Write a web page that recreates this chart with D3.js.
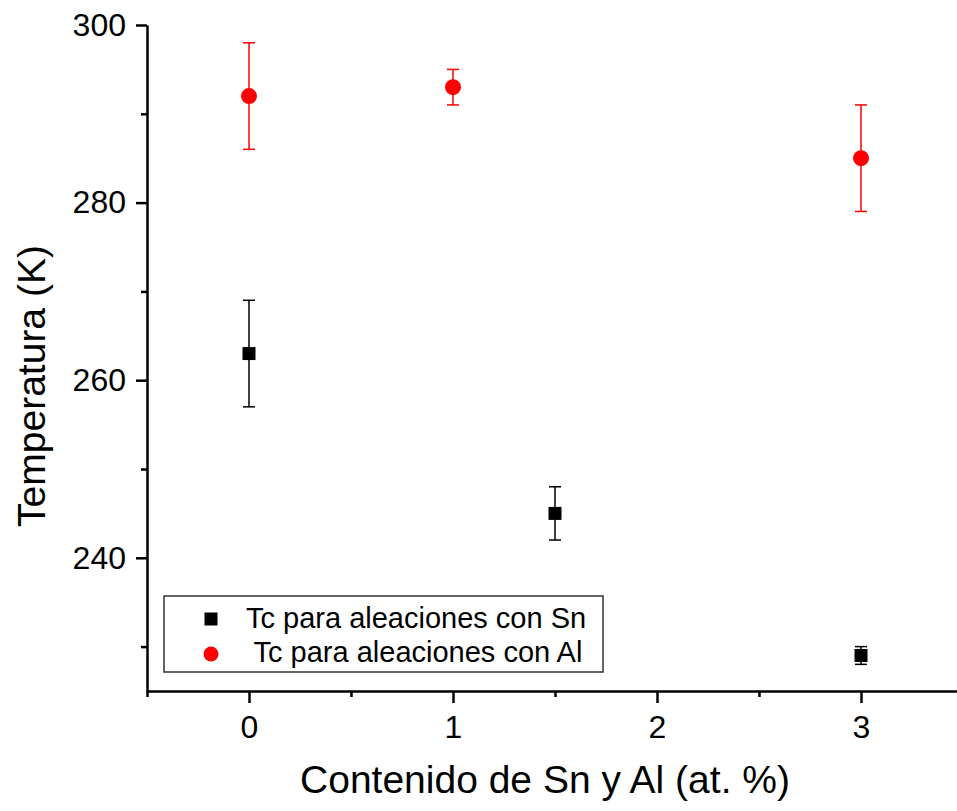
<!DOCTYPE html>
<html>
<head>
<meta charset="utf-8">
<script src="https://cdn.jsdelivr.net/npm/d3@7"></script>
<style>
  html, body { margin: 0; padding: 0; background: #fff; }
  svg { display: block; font-family: Arial, "Liberation Sans", sans-serif; }
</style>
</head>
<body>
<svg id="chart" width="957" height="811"></svg>
<script>
// Curie temperature versus solute content
const snContent = [0, 1.5, 3];
const snTc = [263, 245, 229];
const snErr = [6, 3, 1];

const alContent = [0, 1, 3];
const alTc = [292, 293, 285];
const alErr = [6, 2, 6];

const xTicks = [0, 1, 2, 3];
const xMinorTicks = [-0.5, 0.5, 1.5, 2.5, 3.5];
const yTicks = [240, 260, 280, 300];
const yMinorTicks = [230, 250, 270, 290];

const legendLabels = ["Tc para aleaciones con Sn", " Tc para aleaciones con Al"];
const xTitle = "Contenido de Sn y Al (at. %)";
const yTitle = "Temperatura (K)";

const svg = d3.select("#chart");

const x = d3.scaleLinear().domain([-0.5, 3.5]).range([147, 963]);
const y = d3.scaleLinear().domain([225, 300]).range([691, 25]);

// Axes
const axisStroke = 2.5;
const xAxis = svg.append("g").attr("transform", `translate(0,${y(225)})`)
  .call(d3.axisBottom(x).tickValues(xTicks).tickFormat(d3.format("d"))
    .tickSizeInner(12).tickSizeOuter(0).tickPadding(12));
const xMinor = svg.append("g").attr("transform", `translate(0,${y(225)})`)
  .call(d3.axisBottom(x).tickValues(xMinorTicks).tickFormat("")
    .tickSizeInner(6).tickSizeOuter(0));
xMinor.select(".domain").remove();

const yAxis = svg.append("g").attr("transform", `translate(${x(-0.5)},0)`)
  .call(d3.axisLeft(y).tickValues(yTicks).tickFormat(d3.format("d"))
    .tickSizeInner(11).tickSizeOuter(0).tickPadding(10));
const yMinor = svg.append("g").attr("transform", `translate(${x(-0.5)},0)`)
  .call(d3.axisLeft(y).tickValues(yMinorTicks).tickFormat("")
    .tickSizeInner(6).tickSizeOuter(0));
yMinor.select(".domain").remove();

[xAxis, xMinor, yAxis, yMinor].forEach(g => {
  g.selectAll(".domain").attr("stroke", "#000").attr("stroke-width", axisStroke);
  g.selectAll(".tick line").attr("stroke", "#000").attr("stroke-width", axisStroke);
  g.selectAll(".tick text").attr("fill", "#000")
    .style("font-size", "32px").style("font-family", "Arial, 'Liberation Sans', sans-serif");
});

// Axis titles
svg.append("text")
  .attr("x", 545).attr("y", 793)
  .attr("text-anchor", "middle")
  .style("font-size", "39px")
  .text(xTitle);

svg.append("text")
  .attr("transform", "translate(45,386) rotate(-90)")
  .attr("text-anchor", "middle")
  .style("font-size", "39px")
  .text(yTitle);

// Error bars
function errorBars(xs, ys, es, color) {
  const g = svg.append("g").attr("stroke", color).attr("stroke-width", 1.5);
  const capHalf = 6;
  xs.forEach((xv, i) => {
    const cx = x(xv), top = y(ys[i] + es[i]), bot = y(ys[i] - es[i]);
    g.append("line").attr("x1", cx).attr("x2", cx).attr("y1", top).attr("y2", bot);
    g.append("line").attr("x1", cx - capHalf).attr("x2", cx + capHalf).attr("y1", top).attr("y2", top);
    g.append("line").attr("x1", cx - capHalf).attr("x2", cx + capHalf).attr("y1", bot).attr("y2", bot);
  });
}
errorBars(snContent, snTc, snErr, "#000");
errorBars(alContent, alTc, alErr, "#ff0000");

// Markers
const sq = 13;
svg.append("g").selectAll("rect").data(snContent).join("rect")
  .attr("x", d => x(d) - sq / 2)
  .attr("y", (d, i) => y(snTc[i]) - sq / 2)
  .attr("width", sq).attr("height", sq)
  .attr("fill", "#000");

svg.append("g").selectAll("circle").data(alContent).join("circle")
  .attr("cx", d => x(d))
  .attr("cy", (d, i) => y(alTc[i]))
  .attr("r", 8)
  .attr("fill", "#ff0000");

// Legend
const legend = svg.append("g");
legend.append("rect")
  .attr("x", 164).attr("y", 596).attr("width", 439).attr("height", 76)
  .attr("fill", "#fff").attr("stroke", "#333").attr("stroke-width", 1.5);
legend.append("rect")
  .attr("x", 211 - 6.5).attr("y", 619 - 6.5).attr("width", 13).attr("height", 13)
  .attr("fill", "#000");
legend.append("circle")
  .attr("cx", 211).attr("cy", 654).attr("r", 7.5)
  .attr("fill", "#ff0000");
legend.selectAll("text").data(legendLabels).join("text")
  .attr("x", 246)
  .attr("y", (d, i) => 628 + i * 34)
  .style("font-size", "29px")
  .style("white-space", "pre")
  .attr("xml:space", "preserve")
  .text(d => d);
</script>
</body>
</html>
